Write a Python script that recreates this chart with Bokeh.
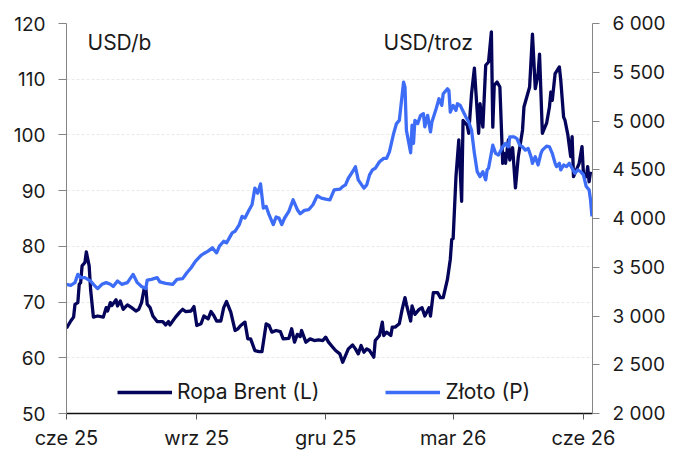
import pandas as pd
from bokeh.plotting import figure
from bokeh.models import Range1d, LinearAxis, FixedTicker, Label, Legend, LegendItem
from bokeh.embed import file_html
from bokeh.resources import INLINE

START = "2025-06-01"

# Brent (USD/b), dates as days since 1 Jun 2025
brent_day = [0, 3, 5, 6, 8, 9, 10, 11, 13, 14,
             16, 17, 19, 22, 26, 28, 29, 31, 32, 35,
             36, 38, 40, 43, 46, 49, 51, 53, 55, 56,
             57, 59, 61, 64, 68, 70, 72, 73, 77, 80,
             82, 84, 88, 90, 92, 95, 97, 100, 102, 104,
             106, 109, 111, 113, 116, 119, 121, 123, 126, 128,
             130, 133, 136, 138, 141, 143, 145, 148, 151, 153,
             157, 159, 161, 163, 165, 166, 169, 172, 175, 178,
             181, 183, 185, 188, 190, 193, 195, 197, 199, 202,
             204, 206, 208, 210, 212, 214, 217, 218, 221, 223,
             224, 226, 229, 230, 232, 235, 237, 239, 240, 243,
             244, 246, 249, 251, 253, 256, 257, 259, 262, 264,
             266, 269, 271, 272, 273, 275, 277, 279, 280, 283,
             284, 286, 288, 289, 291, 292, 294, 296, 298, 300,
             301, 302, 304, 306, 308, 309, 310, 312, 313, 315,
             317, 319, 322, 323, 325, 327, 329, 331, 333, 334,
             336, 339, 341, 342, 343, 345, 348, 349, 351, 352,
             354, 356, 357, 358, 361, 362, 364, 365, 367, 368,
             369, 370]
brent_usd = [65.3, 66.6, 67.3, 69.6, 69.9, 73.2, 73.5, 76.5, 77.1, 79.0,
             76.5, 72.3, 67.3, 67.5, 67.3, 69.0, 68.4, 69.9, 69.4, 70.4,
             69.3, 70.2, 68.7, 69.5, 69.0, 68.4, 68.7, 69.9, 72.6, 72.6,
             69.6, 69.0, 67.5, 66.5, 66.5, 65.9, 66.5, 65.9, 67.3, 68.2,
             68.7, 68.3, 68.4, 69.2, 65.8, 66.1, 67.5, 67.0, 68.3, 67.6,
             66.6, 66.6, 69.0, 70.1, 68.2, 64.9, 65.2, 65.8, 66.4, 63.4,
             63.4, 61.3, 61.1, 61.1, 66.1, 65.8, 64.6, 64.9, 64.7, 63.4,
             63.5, 65.2, 62.8, 64.2, 63.8, 64.9, 62.8, 63.4, 63.1, 63.2,
             63.1, 63.7, 62.8, 61.9, 61.3, 60.7, 59.2, 60.4, 61.6, 62.3,
             61.6, 60.7, 62.2, 61.0, 61.6, 61.3, 60.1, 63.1, 64.0, 66.4,
             64.0, 64.6, 64.0, 65.5, 65.5, 66.1, 68.7, 70.8, 69.6, 66.6,
             69.3, 67.8, 68.7, 69.0, 67.5, 69.0, 67.5, 71.7, 71.7, 70.8,
             70.8, 74.1, 77.7, 81.2, 81.4, 92.5, 99.1, 88.1, 102.6, 101.7,
             100.3, 107.4, 112.0, 108.0, 100.3, 105.6, 101.4, 112.5, 113.1, 118.5,
             101.4, 108.9, 109.5, 108.6, 94.9, 96.7, 94.9, 99.1, 95.5, 97.7,
             90.5, 96.1, 100.9, 105.0, 106.8, 108.6, 118.1, 108.3, 111.0, 114.5,
             100.3, 102.1, 105.0, 107.7, 106.2, 111.0, 112.2, 109.8, 103.2, 102.6,
             100.0, 96.1, 99.7, 92.5, 94.3, 94.9, 97.9, 93.1, 92.5, 94.3,
             91.6, 93.4]

# Gold (USD/troz), dates as days since 1 Jun 2025
gold_day = [0, 3, 6, 8, 10, 13, 17, 19, 22, 25,
            28, 31, 33, 36, 39, 43, 47, 50, 53, 56,
            57, 60, 64, 66, 70, 75, 78, 82, 85, 88,
            91, 95, 97, 100, 103, 106, 108, 111, 113, 117,
            119, 122, 124, 126, 129, 131, 133, 135, 137, 139,
            141, 143, 146, 148, 150, 152, 154, 157, 160, 163,
            165, 168, 171, 174, 177, 180, 183, 186, 189, 193,
            195, 197, 199, 202, 204, 206, 210, 212, 214, 216,
            218, 221, 224, 226, 228, 231, 233, 235, 238, 239,
            240, 243, 244, 245, 246, 248, 250, 252, 253, 255,
            257, 258, 261, 263, 265, 266, 269, 270, 271, 273,
            275, 276, 278, 280, 282, 284, 286, 288, 290, 292,
            294, 296, 297, 298, 301, 303, 305, 308, 310, 312,
            313, 316, 318, 320, 322, 324, 326, 328, 329, 331,
            333, 335, 336, 339, 341, 343, 345, 346, 348, 349,
            351, 353, 355, 357, 359, 361, 363, 365, 367, 369,
            370, 371]
gold_usd = [3325, 3315, 3342, 3427, 3393, 3393, 3359, 3325, 3281, 3325,
            3342, 3325, 3302, 3359, 3325, 3342, 3427, 3342, 3302, 3281,
            3369, 3376, 3393, 3349, 3335, 3325, 3376, 3383, 3444, 3495,
            3560, 3621, 3641, 3665, 3699, 3648, 3716, 3767, 3750, 3852,
            3869, 3937, 4022, 4005, 4090, 4141, 4311, 4260, 4355, 4107,
            4124, 4039, 3937, 4015, 4005, 3937, 4005, 4073, 4192, 4090,
            4049, 4083, 4090, 4141, 4233, 4209, 4199, 4192, 4294, 4301,
            4327, 4345, 4413, 4480, 4531, 4396, 4311, 4345, 4447, 4498,
            4515, 4582, 4617, 4617, 4684, 4872, 4974, 5007, 5398, 5347,
            4905, 4674, 4957, 4770, 5007, 4974, 5058, 5075, 4939, 5058,
            4888, 4990, 5126, 5228, 5160, 5279, 5330, 5313, 5092, 5160,
            5109, 5177, 5160, 5100, 5041, 4990, 4905, 4668, 4480, 4430,
            4480, 4396, 4498, 4515, 4752, 4668, 4651, 4735, 4770, 4735,
            4837, 4837, 4820, 4752, 4735, 4701, 4718, 4634, 4566, 4634,
            4549, 4668, 4701, 4742, 4735, 4668, 4566, 4532, 4566, 4498,
            4549, 4532, 4566, 4515, 4464, 4498, 4481, 4447, 4328, 4294,
            4192, 4022]

x_tick_dates = ["2025-06-01", "2025-09-01", "2025-12-01", "2026-03-01", "2026-06-01"]
x_tick_labels = ["cze 25", "wrz 25", "gru 25", "mar 26", "cze 26"]
left_ticks = [50, 60, 70, 80, 90, 100, 110, 120]
right_ticks = [2000, 2500, 3000, 3500, 4000, 4500, 5000, 5500, 6000]
right_tick_labels = ["2 000", "2 500", "3 000", "3 500", "4 000", "4 500", "5 000", "5 500", "6 000"]
series_names = ["Ropa Brent (L)", "Złoto (P)"]
unit_labels = ["USD/b", "USD/troz"]

FONT = "Inter"
TXT = "#1a1a1a"
NAVY = "#04045a"
BLUE = "#3d6cf7"


def ms(d):
    return pd.Timestamp(d).timestamp() * 1000.0


start_ms = ms(START)
day_ms = 86400000.0
brent_x = [start_ms + d * day_ms for d in brent_day]
gold_x = [start_ms + d * day_ms for d in gold_day]
x_ticks = [ms(d) for d in x_tick_dates]

p = figure(width=683, height=452, x_axis_type="datetime",
           output_backend="svg", toolbar_location=None,
           x_range=Range1d(start_ms, start_ms + 371.4 * day_ms),
           y_range=Range1d(50, 120),
           min_border_left=66, min_border_right=91,
           min_border_top=23, min_border_bottom=37)
p.outline_line_color = None
p.background_fill_color = "white"
p.border_fill_color = "white"

p.extra_y_ranges = {"gold": Range1d(2000, 6000)}

# left axis
ly = p.yaxis[0]
ly.ticker = FixedTicker(ticks=left_ticks)
ly.major_tick_out = 8
ly.major_tick_in = 0
ly.minor_tick_line_color = None
ly.axis_line_color = "#858585"
ly.major_tick_line_color = "#858585"
ly.major_label_standoff = 13
ly.major_label_text_font = FONT
ly.major_label_text_font_size = "19px"
ly.major_label_text_color = TXT

# right axis
ry = LinearAxis(y_range_name="gold")
ry.ticker = FixedTicker(ticks=right_ticks)
ry.major_label_overrides = {t: l for t, l in zip(right_ticks, right_tick_labels)}
ry.major_tick_out = 7
ry.major_tick_in = 0
ry.minor_tick_line_color = None
ry.axis_line_color = "#858585"
ry.major_tick_line_color = "#858585"
ry.major_label_standoff = 13
ry.major_label_text_font = FONT
ry.major_label_text_font_size = "19px"
ry.major_label_text_color = TXT
p.add_layout(ry, "right")

# bottom axis
bx = p.xaxis[0]
bx.ticker = FixedTicker(ticks=x_ticks)
bx.major_label_overrides = {t: l for t, l in zip(x_ticks, x_tick_labels)}
bx.major_tick_out = 6
bx.major_tick_in = 0
bx.minor_tick_line_color = None
bx.axis_line_color = "#111111"
bx.axis_line_width = 1.3
bx.major_tick_line_color = "#555555"
bx.major_label_standoff = 6
bx.major_label_text_font = FONT
bx.major_label_text_font_size = "20px"
bx.major_label_text_color = TXT

p.xgrid.visible = False
p.ygrid.ticker = FixedTicker(ticks=left_ticks)
p.ygrid.grid_line_color = "#e9e9e9"
p.ygrid.grid_line_dash = "3 2"

r_brent = p.line(brent_x, brent_usd, line_color=NAVY, line_width=3.3, line_join="round")
r_gold = p.line(gold_x, gold_usd, y_range_name="gold", line_color=BLUE, line_width=3.3, line_join="round")

legend = Legend(items=[LegendItem(label=series_names[0], renderers=[r_brent]),
                       LegendItem(label=series_names[1], renderers=[r_gold])],
                orientation="horizontal", location=(51, 9),
                glyph_width=55, glyph_height=20, label_height=20,
                label_standoff=5, spacing=66, padding=0, margin=0,
                border_line_color=None, background_fill_alpha=0,
                label_text_font=FONT, label_text_font_size="21px",
                label_text_color=TXT)
p.add_layout(legend)

p.add_layout(Label(x=21, y=371, x_units="screen", y_units="screen",
                   text=unit_labels[0], text_baseline="middle",
                   text_font=FONT, text_font_size="21px", text_color=TXT))
p.add_layout(Label(x=317, y=371, x_units="screen", y_units="screen",
                   text=unit_labels[1], text_baseline="middle",
                   text_font=FONT, text_font_size="21px", text_color=TXT))

open("out.html", "w").write(file_html(p, INLINE))
